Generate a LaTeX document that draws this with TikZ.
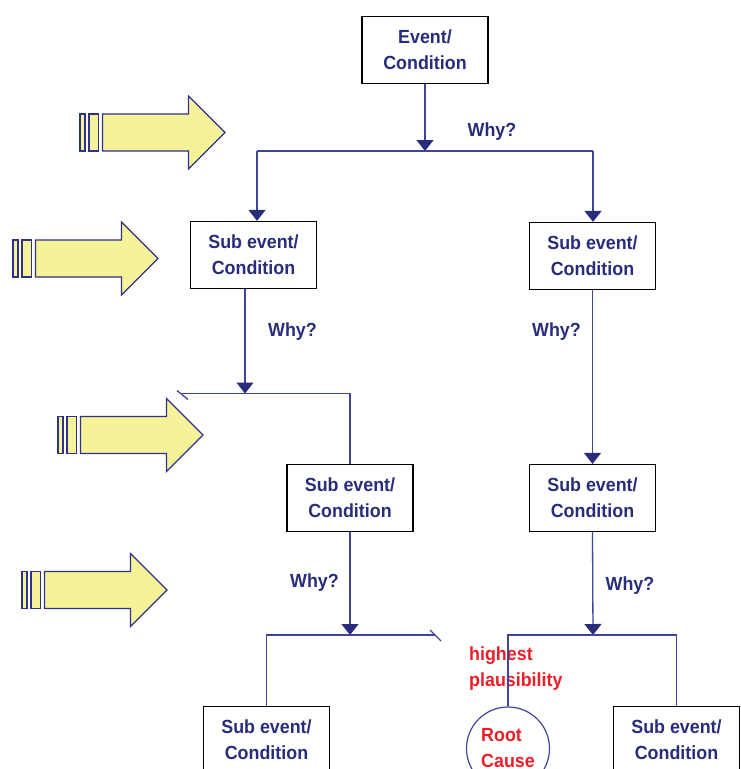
\documentclass[tikz,border=0pt]{standalone}
\usepackage{fontspec}
\setmainfont{Liberation Sans}[FakeStretch=0.94]
\usetikzlibrary{arrows.meta, positioning, calc}

\definecolor{navy}{RGB}{40,44,122}
\definecolor{linkblue}{RGB}{64,68,152}
\definecolor{hintfill}{RGB}{246,242,152}
\definecolor{hintline}{RGB}{46,50,140}
\definecolor{causered}{RGB}{236,30,40}

\begin{document}
\begin{tikzpicture}[x=1pt, y=-1pt,
    box/.style={draw=black, line width=1.3pt, minimum width=126pt, minimum height=67pt,
        inner sep=0pt, align=center, text=navy,
        font=\fontsize{19}{26}\selectfont\bfseries},
    why/.style={text=navy, inner sep=0pt, font=\fontsize{19}{22}\selectfont\bfseries},
    link/.style={draw=linkblue, line width=1.3pt},
    arr/.style={-{Triangle[width=17pt, length=11pt, color=navy]}},
    hint/.style={draw=hintline, fill=hintfill, line width=1.2pt, line join=miter}]
    \clip (0,0) rectangle (741,769);

    % Yellow hint arrows on the left
    \foreach \ax/\ay in {80/132.5, 13/258.5, 58/435, 22/590} {
        \draw[hint] (\ax,\ay-18.5) rectangle (\ax+5,\ay+18.5);
        \draw[hint] (\ax+9,\ay-18.5) rectangle (\ax+18.5,\ay+18.5);
        \draw[hint] (\ax+22.5,\ay-18.5) -- (\ax+108.5,\ay-18.5) -- (\ax+108.5,\ay-36.5)
            -- (\ax+145,\ay) -- (\ax+108.5,\ay+36.5) -- (\ax+108.5,\ay+18.5)
            -- (\ax+22.5,\ay+18.5) -- cycle;
    }

    % Boxes
    \node[box] (event) at (425,50) {Event/\\Condition};
    \node[box] (subA) at (253.5,255) {Sub event/\\Condition};
    \node[box] (subB) at (592.5,256) {Sub event/\\Condition};
    \node[box] (subC) at (350,498) {Sub event/\\Condition};
    \node[box] (subD) at (592.5,498) {Sub event/\\Condition};
    \node[box] (subE) at (266.5,740) {Sub event/\\Condition};
    \node[box] (subF) at (676.5,740) {Sub event/\\Condition};
    \node[circle, draw=linkblue, line width=1.2pt, minimum size=83pt, inner sep=0pt,
        align=left, text=causered, font=\fontsize{19}{26}\selectfont\bfseries]
        (root) at (508,748.5) {Root\\Cause};

    % Why? labels
    \node[why] (why1) at (492,132) {Why?};
    \node[why] (why2) at (292.5,332) {Why?};
    \node[why] (why3) at (556.5,332) {Why?};
    \node[why] (why4) at (314.5,583) {Why?};
    \node[why] (why5) at (630,586) {Why?};
    \node[anchor=west, align=left, inner sep=0pt, text=causered,
        font=\fontsize{19}{26}\selectfont\bfseries] (plaus) at (469,668.5) {highest\\plausibility};

    % Junction points
    \coordinate (j1) at (425,151);
    \coordinate (b1l) at (257,151);
    \coordinate (b1r) at (593,151);
    \coordinate (j2) at (245,393.5);
    \coordinate (t2) at (182,393.5);
    \coordinate (j3) at (350,635);
    \coordinate (t3) at (435,635);
    \coordinate (j4) at (593,635);

    % Connectors
    \draw[link, arr] (event.south) -- (j1);
    \draw[link] (b1l) -- (b1r);
    \draw[link, arr] (b1l) -- (b1l |- subA.north);
    \draw[link, arr] (b1r) -- (b1r |- subB.north);

    \draw[link, arr] (j2 |- subA.south) -- (j2);
    \draw[link] (t2) -| (subC.north);
    \draw[link] (t2) +(-5,-3) -- +(6,6);
    \draw[link, arr] (subB.south) -- (subD.north);

    \draw[link, arr] (subC.south) -- (j3);
    \draw[link] (t3) -| (subE.north);
    \draw[link] (t3) +(-5,-5) -- +(6,6);
    \draw[link, arr] (subD.south) -- (j4);
    \draw[link] (root.north) |- (j4) -| (subF.north);
\end{tikzpicture}
\end{document}
